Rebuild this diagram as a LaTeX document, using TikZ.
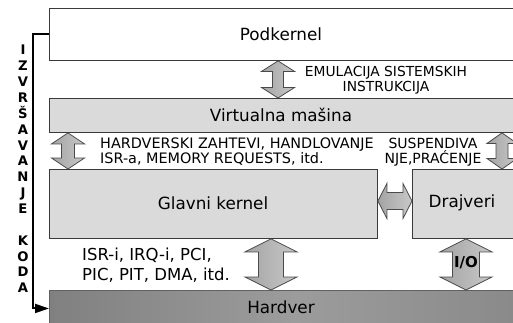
\documentclass[tikz,border=0pt]{standalone}
\usepackage{fontspec}
\setmainfont{DejaVu Sans}
\usetikzlibrary{calc,arrows.meta}
\definecolor{lightbox}{HTML}{DADADA}
\definecolor{borderc}{HTML}{3A3A3A}
\definecolor{hwL}{HTML}{808080}
\definecolor{hwM}{HTML}{9C9C9C}
\definecolor{hwR}{HTML}{888888}
\definecolor{arrL}{HTML}{A4A4A4}
\definecolor{arrR}{HTML}{C8C8C8}
\definecolor{arrline}{HTML}{4A4A4A}
\tikzset{
  layer/.style={draw=borderc, line width=0.9pt, inner sep=0pt, anchor=north west},
  title/.style={font=\fontsize{16.8}{18}\selectfont, inner sep=0pt},
  lbl/.style={font=\fontsize{13.8}{15}\selectfont, inner sep=0pt},
  blockarr/.style={draw=arrline, line width=0.8pt, left color=arrL, right color=arrR, line join=miter},
  vletters/.style={font=\fontsize{13.2}{15.87}\bfseries\selectfont, inner sep=0pt, align=center}
}
\newcommand\vblock[6]{% top node, bottom node, x, shaft half, head half, head length
  \path[blockarr] let \p1=(#1.south), \p2=(#2.north) in
    ({#3pt},\y1) -- ({#3pt+#5pt},{\y1-#6pt}) -- ({#3pt+#4pt},{\y1-#6pt})
    -- ({#3pt+#4pt},{\y2+#6pt}) -- ({#3pt+#5pt},{\y2+#6pt}) -- ({#3pt},\y2)
    -- ({#3pt-#5pt},{\y2+#6pt}) -- ({#3pt-#4pt},{\y2+#6pt})
    -- ({#3pt-#4pt},{\y1-#6pt}) -- ({#3pt-#5pt},{\y1-#6pt}) -- cycle;
}
\newcommand\hblock[6]{% left node, right node, y (image), shaft half, head half, head length
  \path[blockarr] let \p1=(#1.east), \p2=(#2.west) in
    (\x1,{-#3pt}) -- ({\x1+#6pt},{-#3pt+#5pt}) -- ({\x1+#6pt},{-#3pt+#4pt})
    -- ({\x2-#6pt},{-#3pt+#4pt}) -- ({\x2-#6pt},{-#3pt+#5pt}) -- (\x2,{-#3pt})
    -- ({\x2-#6pt},{-#3pt-#5pt}) -- ({\x2-#6pt},{-#3pt-#4pt})
    -- ({\x1+#6pt},{-#3pt-#4pt}) -- ({\x1+#6pt},{-#3pt-#5pt}) -- cycle;
}
\begin{document}
\begin{tikzpicture}[x=1pt,y=-1pt]
\useasboundingbox (0,0) rectangle (513,322);
\clip (0,0) rectangle (513,322);
\fill[white] (0,0) rectangle (513,322);

% layers
\node[layer, fill=white, minimum width=490pt, minimum height=52pt] (pod) at (49,8) {};
\node[title] (podt) at (281,34) {Podkernel};

\node[layer, fill=lightbox, minimum width=490pt, minimum height=34pt] (vm) at (49,98) {};
\node[title] (vmt) at (281,115) {Virtualna mašina};

\node[layer, fill=lightbox, minimum width=328pt, minimum height=69pt] (gk) at (49,169) {};
\node[title] (gkt) at (213,203) {Glavni kernel};

\node[layer, fill=lightbox, minimum width=120pt, minimum height=69pt] (drv) at (412,169) {};
\node[title] (drvt) at (462,203) {Drajveri};

\node[layer, draw=borderc!80, left color=hwL, right color=hwR, middle color=hwM, minimum width=490pt, minimum height=36pt] (hw) at (49,290) {};
\node[title] (hwt) at (281,307) {Hardver};

% block arrows
\vblock{pod}{vm}{278}{5.5}{16.5}{10.5}
\vblock{vm}{gk}{68}{6.5}{16.5}{11}
\vblock{vm}{drv}{502}{6}{15}{10.5}
\hblock{gk}{drv}{201}{8.5}{17.5}{9}
\vblock{gk}{hw}{271}{12.5}{26}{13}
\vblock{drv}{hw}{466}{13.5}{26}{13}

% labels
\node[lbl, align=center] (emu) at (386,80) {EMULACIJA SISTEMSKIH\\INSTRUKCIJA};
\node[lbl, align=left, anchor=west, font=\fontsize{14.4}{14.5}\selectfont] (hwz) at (100,151.5) {HARDVERSKI ZAHTEVI, HANDLOVANJE\\ISR-a, MEMORY REQUESTS, itd.};
\node[lbl, align=center, font=\fontsize{14}{15}\selectfont] (susp) at (433,152) {SUSPENDIVA\\NJE,PRAĆENJE};
\node[lbl, align=left, anchor=west, font=\fontsize{16.5}{20}\selectfont] (isr) at (82,265) {ISR-i, IRQ-i, PCI,\\PIC, PIT, DMA, itd.};
\node[font=\fontsize{15}{16}\bfseries\selectfont, inner sep=0pt] (io) at (466,263) {I/O};

% execution flow line
\node[vletters] (izv) at (23,169) {I\\Z\\V\\R\\Š\\A\\V\\A\\N\\J\\E\\\mbox{}\\K\\O\\D\\A};
\draw[line width=2pt, -{Triangle[length=14pt,width=9pt]}] (pod.west) -- ++(-16,0) |- (hw.west);
\end{tikzpicture}
\end{document}
